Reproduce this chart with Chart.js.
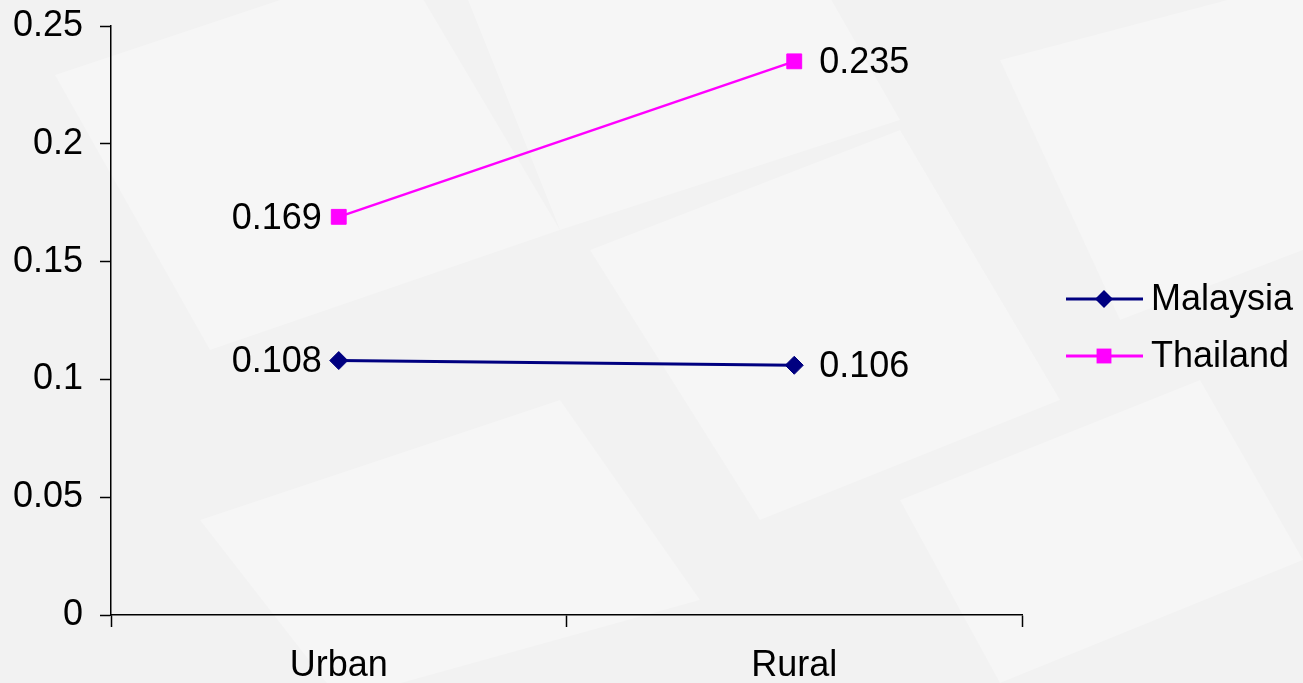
<!DOCTYPE html>
<html>
<head>
<meta charset="utf-8">
<script src="https://cdn.jsdelivr.net/npm/chart.js@4"></script>
<style>
  body { margin: 0; background: #f4f4f4; }
  canvas { display: block; }
</style>
</head>
<body>
<canvas id="myChart" width="1303" height="683"></canvas>
<script>
const categories = ["Urban", "Rural"];
const malaysia = [0.108, 0.106];
const thailand = [0.169, 0.235];
const yTicks = [0, 0.05, 0.1, 0.15, 0.2, 0.25];
const yTickLabels = ["0", "0.05", "0.1", "0.15", "0.2", "0.25"];

const FONT = "'Liberation Sans', Arial, sans-serif";
const FONT_SIZE = 36;

// faint slide background with diagonal bands
const backgroundPlugin = {
  id: "slideBg",
  beforeDraw(chart) {
    const c = chart.ctx;
    c.save();
    c.fillStyle = "#f2f2f2";
    c.fillRect(0, 0, chart.width, chart.height);
    const quads = [
      [[55, 75], [400, -40], [560, 230], [210, 350]],
      [[200, 520], [560, 400], [700, 600], [340, 700]],
      [[590, 250], [900, 130], [1060, 400], [760, 520]],
      [[900, 500], [1200, 380], [1303, 560], [1000, 683]],
      [[460, -20], [820, -20], [900, 120], [560, 230]],
      [[1000, 60], [1303, -20], [1303, 250], [1120, 320]],
    ];
    c.fillStyle = "rgba(255,255,255,0.3)";
    quads.forEach((q) => {
      c.beginPath();
      c.moveTo(q[0][0], q[0][1]);
      q.slice(1).forEach((p) => c.lineTo(p[0], p[1]));
      c.closePath();
      c.fill();
    });
    c.restore();
  },
};

// value labels next to points: left of first category, right of second
const valueLabels = {
  id: "valueLabels",
  afterDatasetsDraw(chart) {
    const c = chart.ctx;
    c.save();
    c.font = FONT_SIZE + "px " + FONT;
    c.fillStyle = "#000";
    c.textBaseline = "middle";
    chart.data.datasets.forEach((ds, i) => {
      chart.getDatasetMeta(i).data.forEach((pt, j) => {
        const txt = String(ds.data[j]);
        if (j === 0) {
          c.textAlign = "right";
          c.fillText(txt, pt.x - 17, pt.y + 2);
        } else {
          c.textAlign = "left";
          c.fillText(txt, pt.x + 25, pt.y + 2);
        }
      });
    });
    c.restore();
  },
};

// legend drawn as line + marker like the original
const sideLegend = {
  id: "sideLegend",
  afterDraw(chart) {
    const c = chart.ctx;
    const rows = [299, 356];
    c.save();
    chart.data.datasets.forEach((ds, i) => {
      const y = rows[i];
      c.strokeStyle = ds.borderColor;
      c.lineWidth = 3;
      c.beginPath();
      c.moveTo(1066, y);
      c.lineTo(1143, y);
      c.stroke();
      c.fillStyle = ds.pointBackgroundColor;
      c.beginPath();
      if (ds.pointStyle === "rectRot") {
        const r = ds.pointRadius;
        c.moveTo(1104, y - r);
        c.lineTo(1104 + r, y);
        c.lineTo(1104, y + r);
        c.lineTo(1104 - r, y);
      } else {
        const s = ds.pointRadius * Math.SQRT1_2;
        c.rect(1104 - s, y - s, 2 * s, 2 * s);
      }
      c.closePath();
      c.fill();
      c.fillStyle = "#000";
      c.font = FONT_SIZE + "px " + FONT;
      c.textAlign = "left";
      c.textBaseline = "middle";
      c.fillText(ds.label, 1151, y + 1);
    });
    c.restore();
  },
};

const ctx = document.getElementById("myChart");

new Chart(ctx, {
  type: "line",
  data: {
    labels: categories,
    datasets: [
      {
        label: "Malaysia",
        data: malaysia,
        borderColor: "#000080",
        backgroundColor: "#000080",
        pointBackgroundColor: "#000080",
        pointBorderColor: "#000080",
        borderWidth: 3,
        pointStyle: "rectRot",
        pointRadius: 9,
        pointBorderWidth: 1,
        tension: 0,
      },
      {
        label: "Thailand",
        data: thailand,
        borderColor: "#ff00ff",
        backgroundColor: "#ff00ff",
        pointBackgroundColor: "#ff00ff",
        pointBorderColor: "#ff00ff",
        borderWidth: 2.5,
        pointStyle: "rect",
        pointRadius: 10.5,
        pointBorderWidth: 1,
        tension: 0,
      },
    ],
  },
  options: {
    responsive: false,
    animation: false,
    layout: {
      padding: { top: 26, right: 281, left: 0, bottom: 0 },
    },
    scales: {
      x: {
        offset: true,
        afterFit: (scale) => {
          scale.height = 68;
          scale.paddingLeft = 0;
          scale.paddingRight = 0;
        },
        border: { display: true, color: "#000", width: 1.5 },
        grid: {
          offset: true,
          drawOnChartArea: false,
          drawTicks: true,
          tickLength: 12,
          tickColor: "#000",
          tickWidth: 1.5,
        },
        ticks: {
          color: "#000",
          padding: 17,
          font: { family: FONT, size: FONT_SIZE },
        },
      },
      y: {
        min: 0,
        max: 0.25,
        afterFit: (scale) => {
          scale.width = 111;
          scale.paddingTop = 0;
          scale.paddingBottom = 0;
        },
        afterBuildTicks: (scale) => {
          scale.ticks = yTicks.map((v) => ({ value: v }));
        },
        border: { display: true, color: "#000", width: 1.5 },
        grid: {
          drawOnChartArea: false,
          tickLength: 11,
          tickColor: "#000",
          tickWidth: 1.5,
        },
        ticks: {
          color: "#000",
          padding: 17,
          font: { family: FONT, size: FONT_SIZE },
          callback: (value) => yTickLabels[yTicks.indexOf(value)],
        },
      },
    },
    plugins: {
      legend: { display: false },
      tooltip: { enabled: false },
    },
  },
  plugins: [backgroundPlugin, valueLabels, sideLegend],
});
</script>
</body>
</html>
